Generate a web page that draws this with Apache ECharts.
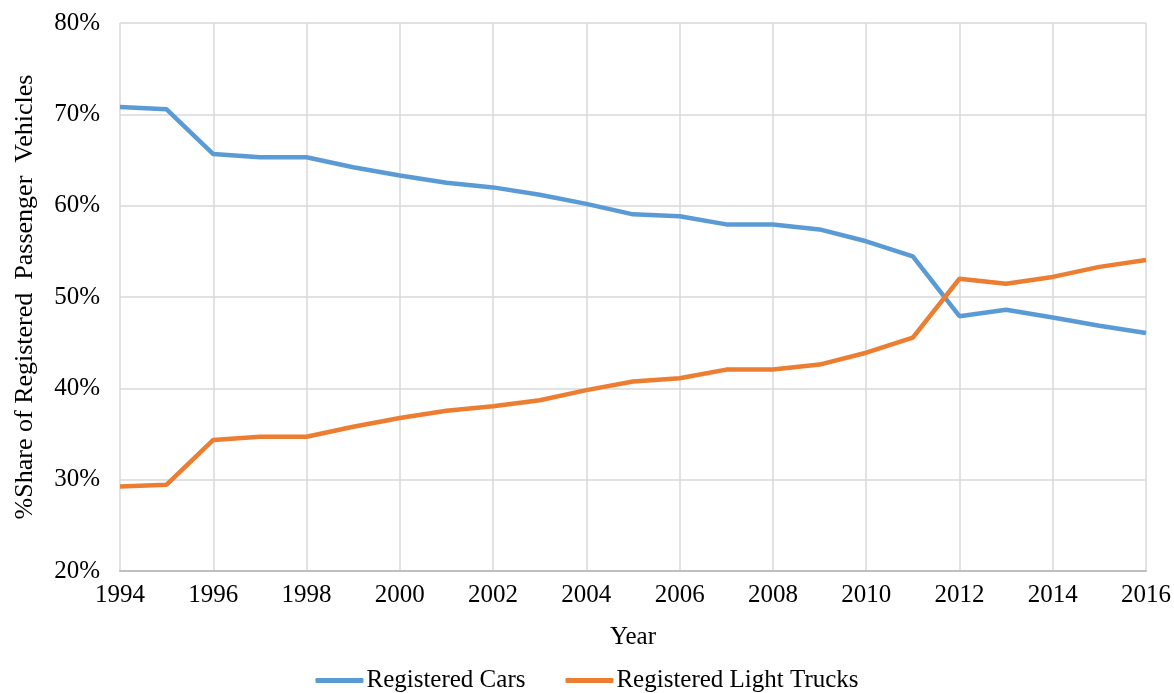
<!DOCTYPE html>
<html>
<head>
<meta charset="utf-8">
<script src="https://cdn.jsdelivr.net/npm/echarts@6/dist/echarts.min.js"></script>
<style>html,body{margin:0;padding:0;background:#fff}#c{width:1174px;height:693px}</style>
</head>
<body>
<div id="c"></div>
<script>
const years = [1994,1995,1996,1997,1998,1999,2000,2001,2002,2003,2004,2005,2006,2007,2008,2009,2010,2011,2012,2013,2014,2015,2016];
const cars = [70.8,70.55,65.65,65.3,65.3,64.2,63.3,62.5,62.0,61.2,60.2,59.05,58.85,57.95,57.95,57.4,56.1,54.45,47.9,48.6,47.75,46.85,46.05];
const trucks = [29.25,29.45,34.35,34.7,34.7,35.8,36.75,37.55,38.05,38.7,39.8,40.75,41.1,42.05,42.05,42.6,43.9,45.55,52.0,51.45,52.2,53.3,54.05];
const seriesNames = ['Registered Cars','Registered Light Trucks'];
const colors = ['#5B9BD5','#ED7D31'];
const FONT = '"Liberation Serif","Times New Roman",serif';
const FS = 25;

const chart = echarts.init(document.getElementById('c'));
chart.setOption({
  animation:false,
  grid:{left:120,right:28,top:23,bottom:122},
  xAxis:{
    type:'value',min:1994,max:2016,interval:2,
    name:'Year',nameLocation:'middle',nameGap:54,
    nameTextStyle:{fontFamily:FONT,fontSize:FS,color:'#000'},
    axisLine:{show:true,lineStyle:{color:'#bfbfbf',width:2}},
    axisTick:{show:false},
    axisLabel:{fontFamily:FONT,fontSize:FS,color:'#000',margin:12,formatter:v=>String(v)},
    splitLine:{show:true,lineStyle:{color:'#d9d9d9',width:1.5}}
  },
  yAxis:{
    type:'value',min:20,max:80,interval:10,
    name:'%Share of Registered  Passenger  Vehicles',nameLocation:'middle',nameGap:82,
    nameTextStyle:{fontFamily:FONT,fontSize:26,color:'#000'},
    axisLine:{show:false},axisTick:{show:false},
    axisLabel:{fontFamily:FONT,fontSize:FS,color:'#000',margin:20,formatter:v=>v+'%'},
    splitLine:{show:true,lineStyle:{color:'#d9d9d9',width:1.5}}
  },
  legend:{
    top:663,left:'center',itemWidth:48,itemHeight:5,itemGap:40,icon:'roundRect',
    textStyle:{fontFamily:FONT,fontSize:FS,color:'#000',padding:[0,0,0,-2]},
    data:seriesNames
  },
  series:[
    {name:seriesNames[0],type:'line',symbol:'none',data:years.map((y,i)=>[y,cars[i]]),
     lineStyle:{color:colors[0],width:4.5},itemStyle:{color:colors[0]}},
    {name:seriesNames[1],type:'line',symbol:'none',data:years.map((y,i)=>[y,trucks[i]]),
     lineStyle:{color:colors[1],width:4.5},itemStyle:{color:colors[1]}}
  ]
});
</script>
</body>
</html>
